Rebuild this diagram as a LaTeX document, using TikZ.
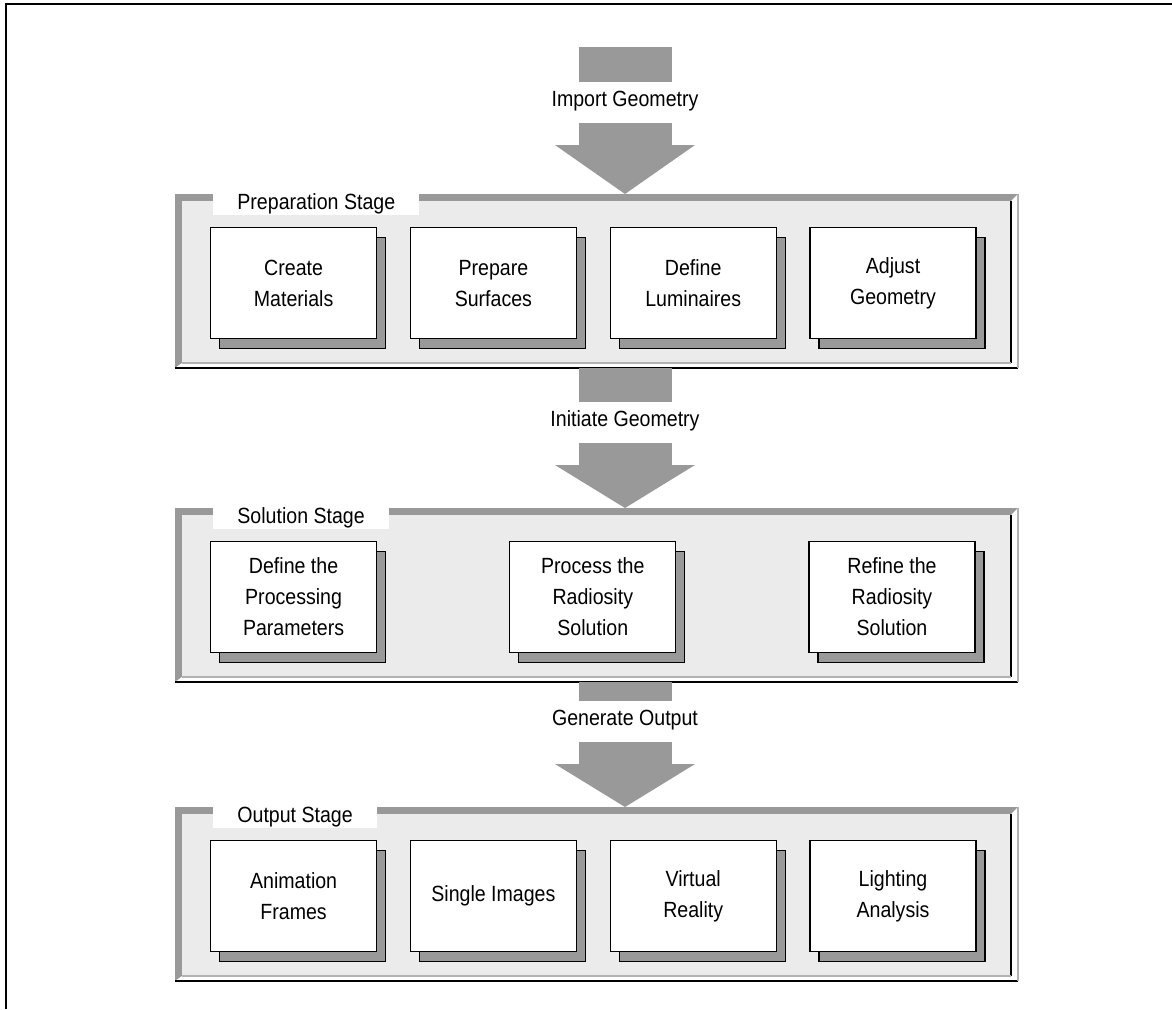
\documentclass[tikz,border=0pt]{standalone}
\usepackage{fontspec}
\setmainfont{Liberation Sans}[FakeStretch=0.89]
\usetikzlibrary{positioning,calc,shadows}
\definecolor{panelgray}{HTML}{EBEBEB}
\definecolor{bevel}{HTML}{999999}
\definecolor{rim}{HTML}{B2B2B2}

\begin{document}
\begin{tikzpicture}[x=0.5pt,y=-0.5pt,
  font=\fontsize{11}{15.5}\selectfont,
  stage/.style={fill=white,minimum width=421pt,minimum height=86.5pt,inner sep=0pt,anchor=north west},
  stagelabel/.style={fill=white,inner xsep=12pt,inner ysep=0.25pt,text height=7.5pt,text depth=2.5pt,anchor=north west},
  task/.style={draw,fill=white,line width=0.6pt,minimum width=83pt,minimum height=55.5pt,inner sep=2pt,align=center,
    general shadow={fill=bevel,draw=black,line width=0.6pt,shadow xshift=4.5pt,shadow yshift=-5pt}},
  flowlabel/.style={inner sep=1pt},
  blockarrow/.style={fill=bevel}]
  \useasboundingbox (0,0) rectangle (1172,1009);
  \draw[line width=0.8pt] (6,1009) -- (6,4) -- (1172,4);

  % stages
  \node[stage] (prep) at (175,194) {};
  \node[stage] (sol) at (175,508) {};
  \node[stage] (out) at (175,807) {};
  \foreach \p in {prep,sol,out}{
    \fill[bevel] (\p.north west) -- (\p.north east) -- ($(\p.north east)+(-7,7)$) -- ($(\p.north west)+(7,7)$)
      -- ($(\p.south west)+(7,-5)$) -- (\p.south west) -- cycle;
    \fill[panelgray] ($(\p.north west)+(7,7)$) rectangle ($(\p.south east)+(-7,-5)$);
    \draw[line width=0.7pt] ($(\p.north east)+(-7,7)$) -- ($(\p.south east)+(-7,-5)$);
    \draw[rim,line width=0.7pt] ($(\p.south west)+(7,-5)$) -- ($(\p.south east)+(-7,-5)$);
    \draw[line width=0.7pt] (\p.south west) -- (\p.south east);
    \draw[rim,line width=0.7pt] (\p.north east) -- (\p.south east);
  }
  \node[stagelabel] (preplbl) at ($(prep.north west)+(38,0)$) {Preparation Stage};
  \node[stagelabel] (sollbl) at ($(sol.north west)+(38,0)$) {Solution Stage};
  \node[stagelabel] (outlbl) at ($(out.north west)+(38,0)$) {Output Stage};

  % preparation
  \node[task,anchor=north west] (mat) at ($(prep.north west)+(35,33)$) {Create\\Materials};
  \node[task,right=16.3pt of mat] (surf) {Prepare\\Surfaces};
  \node[task,right=16.3pt of surf] (lum) {Define\\Luminaires};
  \node[task,right=16.3pt of lum] (adj) {Adjust\\Geometry};

  % solution
  \node[task,anchor=north west] (param) at ($(sol.north west)+(35,33)$) {Define the\\Processing\\Parameters};
  \node[task,right=66pt of param] (proc) {Process the\\Radiosity\\Solution};
  \node[task,right=66pt of proc] (refine) {Refine the\\Radiosity\\Solution};

  % output
  \node[task,anchor=north west] (anim) at ($(out.north west)+(35,33)$) {Animation\\Frames};
  \node[task,right=16.3pt of anim] (single) {Single Images};
  \node[task,right=16.3pt of single] (vr) {Virtual\\Reality};
  \node[task,right=16.3pt of vr] (light) {Lighting\\Analysis};

  % flow arrows
  \node[flowlabel] (imp) at (625,101) {Import Geometry};
  \node[flowlabel] (init) at (625,421) {Initiate Geometry};
  \node[flowlabel] (gen) at (625,720) {Generate Output};

  \fill[blockarrow] ($(imp)+(-46,-54)$) rectangle ($(imp)+(47,-19)$);
  \fill[blockarrow] ($(imp)+(-46,22)$) rectangle ($(imp)+(47,45)$);
  \fill[blockarrow] ($(imp)+(-70,44)$) -- ($(imp)+(70,44)$) -- (imp |- prep.north) -- cycle;

  \fill[blockarrow] (init |- prep.south) ++(-46,0) rectangle ($(init)+(47,-19)$);
  \fill[blockarrow] ($(init)+(-46,22)$) rectangle ($(init)+(47,45)$);
  \fill[blockarrow] ($(init)+(-70,44)$) -- ($(init)+(70,44)$) -- (init |- sol.north) -- cycle;

  \fill[blockarrow] (gen |- sol.south) ++(-46,0) rectangle ($(gen)+(47,-19)$);
  \fill[blockarrow] ($(gen)+(-46,22)$) rectangle ($(gen)+(47,45)$);
  \fill[blockarrow] ($(gen)+(-70,44)$) -- ($(gen)+(70,44)$) -- (gen |- out.north) -- cycle;
\end{tikzpicture}
\end{document}
